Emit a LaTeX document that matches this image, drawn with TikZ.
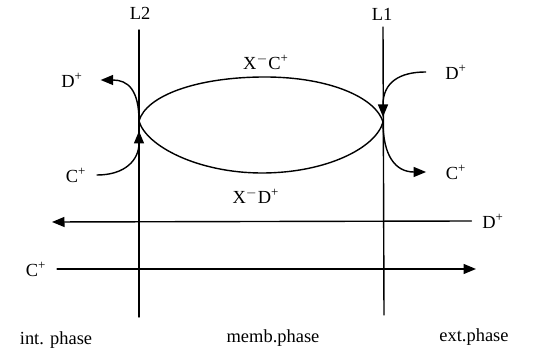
\documentclass[tikz,border=0pt]{standalone}
\usepackage{fontspec}
\setmainfont{Liberation Serif}
\usetikzlibrary{arrows.meta,positioning}
\tikzset{
  >={Triangle[length=2.5mm,width=2mm]},
  lbl/.style={font=\fontsize{10.5}{12}\selectfont, inner sep=1pt},
  memb/.style={line width=0.8pt},
  flux/.style={line width=0.8pt, ->},
}
\newcommand{\ion}[2]{#1\textsuperscript{#2}}
\begin{document}
\begin{tikzpicture}[x=0.02cm, y=-0.02cm, line cap=round, line join=round]
\useasboundingbox (0,0) rectangle (541,357);

% ===================== membranes =====================
\node[lbl] (ltwo) at (140,13) {L2};
\node[lbl] (lone) at (382,14) {L1};
\coordinate (ltwotop) at (139,30);
\coordinate (ltwobot) at (139,317);
\coordinate (lonetop) at (383,27);
\coordinate (lonebot) at (384,315);
\draw[memb] (ltwotop) -- (ltwobot);
\draw[memb] (lonetop) -- (lonebot);

% ---- carrier loop ----
\coordinate (tipL) at (139,121);
\coordinate (tipR) at (383,122);
\coordinate (top) at (265,77);
\coordinate (bot) at (262,173);
\draw[memb] (tipL) .. controls (146,96) and (196,77) .. (top)
            .. controls (330,77) and (376,98) .. (tipR)
            .. controls (376,148) and (326,173) .. (bot)
            .. controls (198,173) and (146,146) .. (tipL);
\node[lbl] (xc) at (266,62) {X\textsuperscript{$-$}\ion{C}{+}};
\node[lbl] (xd) at (256,196) {X\textsuperscript{$-$}\ion{D}{+}};

% ---- exchange at L2 (int. side) ----
\node[lbl] (dl) at (72,80) {\ion{D}{+}};
\node[lbl] (cl) at (76,175) {\ion{C}{+}};
\coordinate (cin) at (139,131);
\draw[flux] (tipL) .. controls (139,90) and (128,80) .. ([xshift=9]dl.east);
\draw[flux] ([xshift=5]cl.east) .. controls (125,175) and (139,160) .. (cin);

% ---- exchange at L1 (ext. side) ----
\node[lbl] (dr) at (456,72) {\ion{D}{+}};
\node[lbl] (cr) at (456,172) {\ion{C}{+}};
\coordinate (din) at (383,117);
\draw[flux] ([xshift=-10]dr.west) .. controls (400,72) and (383,82) .. (din);
\draw[flux] (tipR) .. controls (383,155) and (395,172) .. ([xshift=-10]cr.west);

% ===================== net fluxes =====================
\node[lbl] (dnet) at (493,221) {\ion{D}{+}};
\node[lbl] (cnet) at (36,269) {\ion{C}{+}};
\coordinate (dend) at (52,222);
\coordinate (cend) at (476,269);
\draw[flux] ([xshift=-5]dnet.west) -- (dend);
\draw[flux] ([xshift=5]cnet.east) -- (cend);

% ---- phases ----
\node[lbl] (intp) at (56,340) {int. phase};
\node[lbl] (membp) at (273,338) {memb.phase};
\node[lbl] (extp) at (474,337) {ext.phase};
\end{tikzpicture}
\end{document}
